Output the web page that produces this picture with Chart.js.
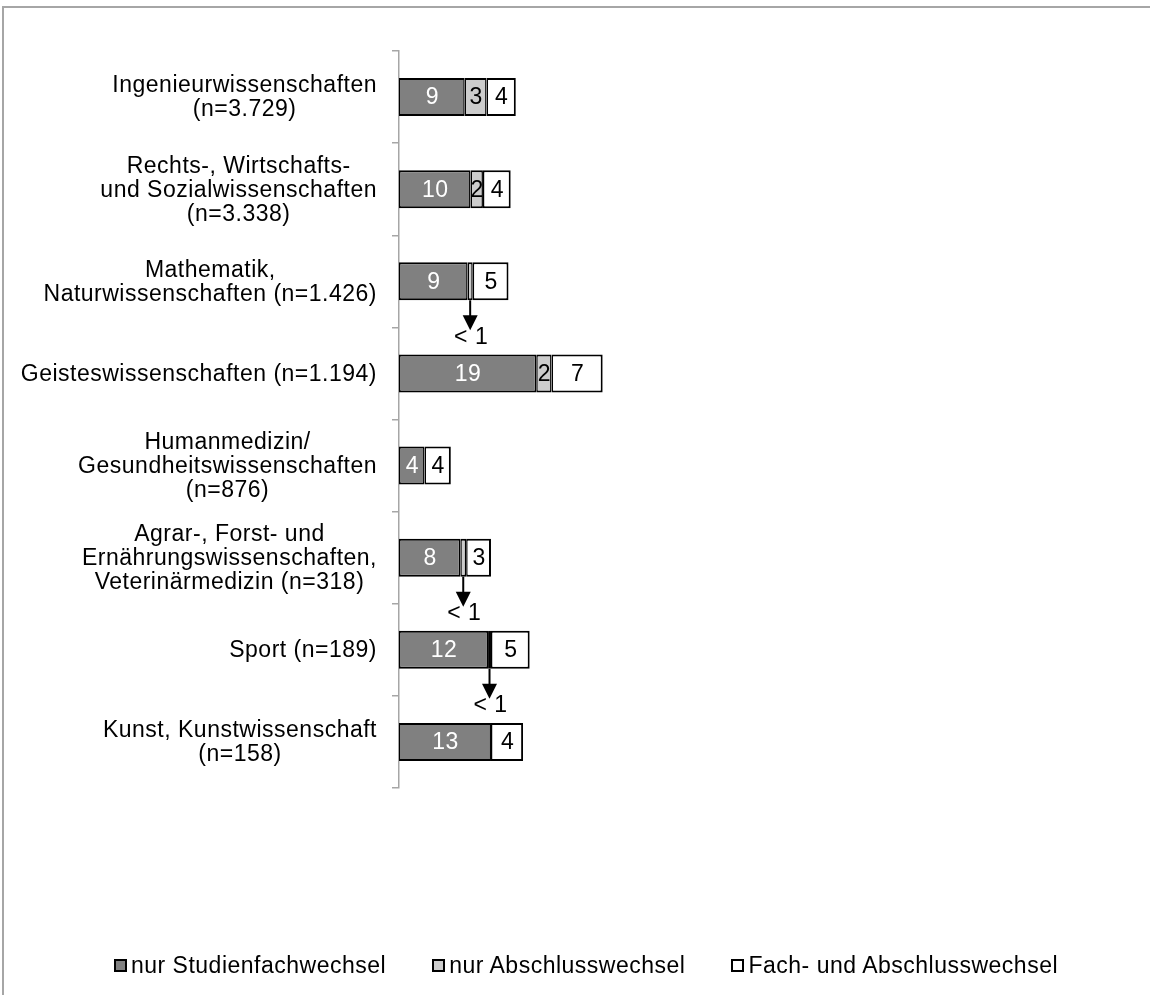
<!DOCTYPE html>
<html lang="de">
<head>
<meta charset="utf-8">
<script src="https://cdn.jsdelivr.net/npm/chart.js@4.4.1/dist/chart.umd.min.js"></script>
<style>
  html, body { margin: 0; padding: 0; background: #fff; overflow: hidden; }
  body { width: 1150px; height: 995px; position: relative; font-family: "Liberation Sans", Arial, sans-serif; }
  #frame { position: absolute; left: 2px; top: 6px; width: 1300px; height: 1200px;
           border-top: 2px solid #a6a6a6; border-left: 2px solid #a6a6a6; }
  #chart { position: absolute; left: 0; top: 0; }
  #legend { position: absolute; left: 22px; right: 0; top: 953px; display: flex; justify-content: center;
            gap: 46px; font-size: 23px; letter-spacing: 0.5px; color: #000; line-height: 24px; }
  .item { display: flex; align-items: center; }
  .box { width: 9px; height: 9px; border: 2px solid #000; margin-right: 4px; }
</style>
</head>
<body>
<div id="frame"></div>
<canvas id="chart" width="1150" height="995"></canvas>
<div id="legend"></div>
<script>
// categories (one array of lines per label)
const categories = [
  ['Ingenieurwissenschaften', '(n=3.729)'],
  ['Rechts-, Wirtschafts-', 'und Sozialwissenschaften', '(n=3.338)'],
  ['Mathematik,', 'Naturwissenschaften (n=1.426)'],
  ['Geisteswissenschaften (n=1.194)'],
  ['Humanmedizin/', 'Gesundheitswissenschaften', '(n=876)'],
  ['Agrar-, Forst- und', 'Ernährungswissenschaften,', 'Veterinärmedizin (n=318)'],
  ['Sport (n=189)'],
  ['Kunst, Kunstwissenschaft', '(n=158)']
];

const seriesNames = ['nur Studienfachwechsel', 'nur Abschlusswechsel', 'Fach- und Abschlusswechsel'];

// values in percent
const nurFach      = [9.0, 9.8, 9.4, 18.8, 3.5, 8.4, 12.2, 12.6];
const nurAbschluss = [3.0, 1.7, 0.7, 2.1, 0, 0.8, 0.4, 0];
const beides       = [4.0, 3.8, 4.9, 7.0, 3.6, 3.4, 5.3, 4.4];

const fills = ['#808080', '#cccccc', '#ffffff'];
const labelColors = ['#ffffff', '#000000', '#000000'];
const FONT = '23px "Liberation Sans", Arial, sans-serif';

// legend
const legend = document.getElementById('legend');
seriesNames.forEach((name, i) => {
  const item = document.createElement('div');
  item.className = 'item';
  item.innerHTML = '<span class="box" style="background:' + fills[i] + '"></span><span>' + name + '</span>';
  legend.appendChild(item);
});

const labelPlugin = {
  id: 'labels',
  afterDraw(chart) {
    const ctx = chart.ctx;
    const yScale = chart.scales.y;
    ctx.save();
    ctx.font = FONT;
    ctx.letterSpacing = '0.5px';
    ctx.textBaseline = 'middle';

    // category labels: block right-aligned, lines centred inside block
    const right = 377;
    const lh = 24;
    categories.forEach((lines, i) => {
      const yc = yScale.getPixelForValue(i);
      const w = Math.max(...lines.map(l => ctx.measureText(l).width));
      const cx = right - w / 2;
      ctx.fillStyle = '#000';
      ctx.textAlign = 'center';
      lines.forEach((l, k) => {
        ctx.fillText(l, cx, yc + 1 + (k - (lines.length - 1) / 2) * lh);
      });
    });

    // values inside segments
    chart.data.datasets.forEach((ds, di) => {
      const meta = chart.getDatasetMeta(di);
      meta.data.forEach((bar, j) => {
        const v = ds.data[j];
        if (!v || v < 1) return;
        ctx.fillStyle = labelColors[di];
        ctx.textAlign = 'center';
        ctx.fillText(String(Math.round(v)), (bar.x + bar.base) / 2 + 0.5, bar.y + 1);
      });
    });

    // arrows with "< 1" for tiny segments
    const meta = chart.getDatasetMeta(1);
    meta.data.forEach((bar, j) => {
      const v = nurAbschluss[j];
      if (!(v > 0 && v < 1)) return;
      const x = (bar.x + bar.base) / 2;
      const y0 = bar.y + bar.height / 2;
      const tip = y0 + 30;
      ctx.strokeStyle = '#000';
      ctx.lineWidth = 2;
      ctx.beginPath();
      ctx.moveTo(x, y0);
      ctx.lineTo(x, tip - 14);
      ctx.stroke();
      ctx.fillStyle = '#000';
      ctx.beginPath();
      ctx.moveTo(x - 7.5, tip - 15);
      ctx.lineTo(x + 7.5, tip - 15);
      ctx.lineTo(x, tip);
      ctx.closePath();
      ctx.fill();
      ctx.textAlign = 'center';
      ctx.fillText('< 1', x + 1, y0 + 37);
    });
    ctx.restore();
  }
};

new Chart(document.getElementById('chart'), {
  type: 'bar',
  data: {
    labels: categories,
    datasets: [nurFach, nurAbschluss, beides].map((d, i) => ({
      label: seriesNames[i],
      data: d,
      backgroundColor: fills[i],
      borderColor: '#000',
      borderWidth: { top: 2, bottom: 2, left: 1.5, right: i === 2 ? 2 : 1.5 },
      borderSkipped: false,
      categoryPercentage: 1,
      barPercentage: 0.412
    }))
  },
  options: {
    indexAxis: 'y',
    responsive: false,
    animation: false,
    layout: { padding: { left: 0, top: 51, right: 21, bottom: 207 } },
    plugins: { legend: { display: false }, tooltip: { enabled: false } },
    scales: {
      x: { display: false, stacked: true, min: 0, max: 100 },
      y: {
        stacked: true,
        afterFit(scale) { scale.width = 399; },
        ticks: { display: false },
        grid: { offset: true, drawOnChartArea: false, drawTicks: true, tickLength: 7, color: '#a6a6a6', lineWidth: 1.5 },
        border: { color: '#a6a6a6', width: 1.5 }
      }
    }
  },
  plugins: [labelPlugin]
});
</script>
</body>
</html>
